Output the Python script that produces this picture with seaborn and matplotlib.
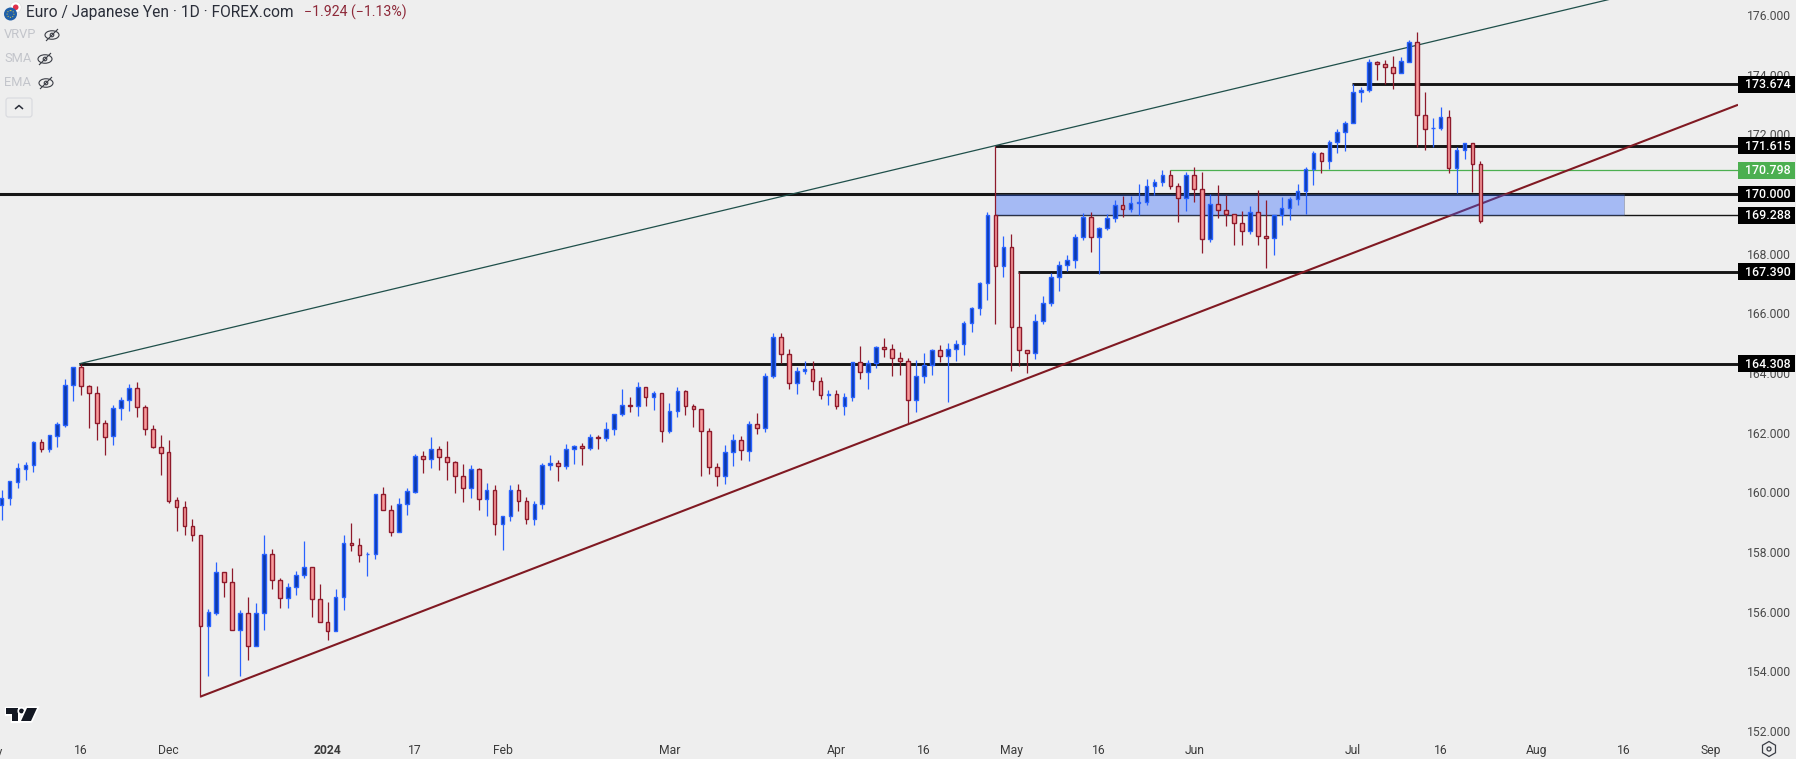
# EUR/JPY daily candles with hand drawn levels and trendlines
import matplotlib
matplotlib.use("Agg")
import matplotlib.pyplot as plt
from matplotlib.patches import Circle, Ellipse, FancyBboxPatch, Polygon, Rectangle, RegularPolygon
from matplotlib.transforms import blended_transform_factory
import matplotlib.patheffects as pe
import numpy as np
import pandas as pd
import seaborn as sns

# daily OHLC
opens = [159.56,159.80,160.36,160.79,160.90,161.67,161.44,161.90,162.27,163.59,
         164.19,163.55,163.32,162.31,161.88,162.81,163.08,163.48,162.85,162.11,
         161.51,161.34,159.73,159.50,158.86,158.56,155.53,155.96,157.32,156.98,
         155.37,155.94,154.84,155.94,157.92,157.05,156.44,156.81,157.22,157.48,
         156.41,155.64,155.34,156.48,158.29,158.22,157.92,157.92,159.93,159.39,
         158.66,159.60,160.02,161.21,161.10,161.44,161.17,161.00,160.53,160.13,
         160.77,159.76,160.07,158.93,159.19,160.07,159.70,159.09,159.60,160.90,
         160.97,160.87,161.44,161.54,161.47,161.84,161.81,162.11,162.61,162.91,
         162.88,163.52,163.18,163.32,162.04,162.71,163.38,162.88,162.78,162.04,
         160.84,160.53,161.34,161.74,161.40,162.28,162.14,163.89,165.19,164.62,
         163.65,164.05,164.12,163.72,163.27,163.28,162.88,163.18,164.36,164.02,
         164.32,164.86,164.79,164.49,164.39,163.08,163.89,164.26,164.76,164.56,
         164.79,164.96,165.66,166.17,167.00,169.28,167.57,168.21,165.53,164.76,
         164.66,165.73,166.33,167.21,167.61,167.78,168.55,169.22,168.55,168.85,
         169.18,169.62,169.49,169.70,169.72,170.26,170.39,170.63,170.26,169.85,
         170.63,170.16,168.48,169.65,169.45,169.32,169.02,168.75,169.38,168.58,
         168.51,169.28,169.52,169.82,170.09,170.83,171.36,171.09,171.73,172.07,
         172.37,173.41,173.48,174.41,174.35,174.25,174.04,174.42,175.08,172.64,
         172.20,172.20,172.57,170.86,171.46,171.70,170.99]
highs = [160.08,160.37,160.98,161.02,161.71,161.79,161.91,162.36,163.80,164.19,
         164.30,163.59,163.56,162.42,162.92,163.19,163.63,163.70,162.93,162.26,
         161.92,161.75,159.84,159.71,159.10,158.56,156.09,157.66,157.32,157.46,
         156.05,156.49,156.29,158.57,158.10,157.13,156.96,157.36,158.37,157.48,
         156.93,156.32,156.76,158.57,158.97,158.47,158.00,159.93,160.18,159.57,
         159.81,160.14,161.28,161.38,161.84,161.54,161.72,161.04,160.95,160.91,
         160.80,160.31,160.24,159.19,160.24,160.28,159.84,159.71,160.97,161.25,
         161.08,161.62,161.59,161.64,161.94,161.92,162.36,162.61,163.46,163.18,
         163.70,163.52,163.40,163.32,162.99,163.52,163.43,162.95,162.78,162.14,
         160.97,161.59,161.95,161.89,162.38,162.66,163.99,165.34,165.34,164.79,
         164.20,164.40,164.40,163.85,163.43,163.43,163.32,164.36,164.90,164.43,
         164.90,165.16,164.96,164.69,164.49,164.43,164.66,164.79,164.94,164.99,
         165.10,165.73,166.21,167.05,169.38,171.61,168.59,168.66,167.37,164.76,
         165.98,166.58,167.34,167.75,167.95,168.66,169.35,169.40,168.88,169.33,
         169.80,169.93,169.93,170.33,170.50,170.50,170.80,170.80,170.36,170.74,
         170.90,170.74,170.00,170.30,169.97,169.32,169.43,169.60,170.12,169.80,
         169.30,169.90,169.90,170.33,170.90,171.44,171.40,171.81,172.18,172.45,
         173.69,173.58,174.51,174.46,174.49,174.63,174.58,175.16,175.42,173.41,
         172.55,172.92,172.82,171.56,171.70,171.70,171.09]
lows = [159.07,159.57,160.14,160.41,160.68,161.35,161.35,161.52,162.19,163.06,
        163.26,162.15,161.75,161.25,161.59,162.42,162.72,162.52,161.92,161.50,
        160.58,159.65,158.70,158.57,158.37,153.15,153.84,155.89,156.50,155.37,
        153.84,154.38,154.84,155.38,156.76,156.12,156.12,156.56,157.13,155.82,
        155.64,155.05,155.34,156.05,158.03,157.66,157.19,157.76,159.39,158.53,
        158.66,159.24,159.99,160.65,160.81,160.75,160.41,159.99,159.69,159.81,
        159.42,159.20,158.57,158.07,159.04,159.37,158.94,158.90,159.44,160.75,
        160.38,160.78,160.95,160.91,161.42,161.45,161.72,161.92,162.56,162.69,
        162.56,162.89,162.76,161.69,161.99,162.52,162.59,162.19,160.55,160.61,
        160.21,160.28,160.88,161.08,161.05,161.95,162.02,163.83,164.32,163.46,
        163.29,163.96,163.43,163.13,162.93,162.79,162.59,163.06,163.80,163.46,
        164.17,164.53,163.90,163.93,162.31,162.69,163.66,163.93,164.37,163.03,
        164.40,164.60,165.37,165.94,166.45,165.64,167.22,164.07,164.23,164.00,
        164.47,165.64,166.24,166.75,167.41,167.52,168.46,168.06,167.32,168.79,
        169.06,169.23,169.40,169.30,169.63,169.97,170.27,170.17,169.06,169.43,
        169.73,168.02,168.39,169.19,168.93,168.29,168.29,168.66,168.29,167.53,
        167.95,168.96,169.13,169.63,169.33,170.30,170.70,170.84,171.37,171.44,
        172.37,173.08,173.42,173.82,173.69,173.52,174.04,174.41,171.58,171.47,
        171.58,172.15,170.70,170.02,171.17,170.07,169.03]
closes = [159.80,160.37,160.80,160.90,161.67,161.44,161.91,162.28,163.59,164.19,
          163.55,163.32,162.31,161.86,162.81,163.08,163.48,162.85,162.11,161.51,
          161.33,159.72,159.50,158.86,158.56,155.53,155.98,157.32,156.98,155.37,
          155.94,154.84,155.94,157.92,157.05,156.44,156.81,157.22,157.48,156.41,
          155.64,155.34,156.48,158.29,158.22,157.89,157.93,159.93,159.39,158.66,
          159.60,160.03,161.21,161.10,161.44,161.17,161.00,160.53,160.13,160.77,
          159.76,160.07,158.93,159.19,160.07,159.70,159.09,159.60,160.90,160.97,
          160.87,161.44,161.54,161.47,161.84,161.81,162.11,162.61,162.91,162.90,
          163.52,163.18,163.32,162.04,162.71,163.38,162.88,162.78,162.04,160.84,
          160.53,161.34,161.74,161.41,162.28,162.14,163.89,165.19,164.62,163.65,
          164.05,164.12,163.72,163.25,163.28,162.88,163.18,164.36,164.02,164.32,
          164.86,164.79,164.49,164.39,163.08,163.89,164.26,164.76,164.56,164.79,
          164.96,165.66,166.17,167.00,169.28,167.57,168.21,165.53,164.76,164.66,
          165.73,166.33,167.21,167.61,167.78,168.55,169.22,168.55,168.85,169.18,
          169.62,169.49,169.69,169.72,170.26,170.39,170.63,170.26,169.85,170.63,
          170.16,168.48,169.65,169.45,169.32,169.02,168.75,169.38,168.58,168.51,
          169.28,169.52,169.82,170.09,170.83,171.36,171.09,171.73,172.07,172.37,
          173.41,173.48,174.41,174.35,174.25,174.04,174.45,175.08,172.64,172.17,
          172.21,172.57,170.86,171.46,171.70,170.99,169.08]

# horizontal levels: price, first bar, line width in points
level_prices = [164.308, 167.390, 170.000, 171.615, 173.674, 169.288]
level_starts = [9.75, 127.8, -1, 125, 169.8, 125]
level_widths = [2.1, 2.1, 2.2, 2.1, 2.1, 1.0]
green_level = 170.798
green_start = 147

zone_prices = [169.288, 170.000]
zone_bars = [125, 204.1]

top_line_x = [9.75, 218.4]
top_line_y = [164.308, 177.55]
bottom_line_x = [25, 218.4]
bottom_line_y = [153.15, 172.99]

price_ticks = [152, 154, 156, 158, 160, 162, 164, 166, 168, 170, 172, 174, 176]
date_ticks = [10, 21, 41, 52, 63, 84, 105, 116, 127, 138, 150, 170, 181, 193, 204, 215]
date_labels = ["16", "Dec", "2024", "17", "Feb", "Mar", "Apr", "16", "May", "16",
               "Jun", "Jul", "16", "Aug", "16", "Sep"]

BG = "#eeeeee"
BULL_EDGE = "#2962ff"
BULL_FILL = "#0d3aa9"
BEAR_EDGE = "#8e1a2b"
BEAR_FILL = "#f89b9b"
W, H = 1796, 759

sns.set_theme(style="white", rc={"lines.solid_capstyle": "butt", "axes.facecolor": BG,
                                 "figure.facecolor": BG})
plt.rcParams["font.family"] = ["Roboto", "DejaVu Sans"]

candles = pd.DataFrame({"open": opens, "high": highs, "low": lows, "close": closes})
candles["bar"] = np.arange(len(candles))
candles["side"] = np.where(candles["close"] >= candles["open"], "up", "down")
wicks = candles.melt(id_vars=["bar", "side"], value_vars=["low", "high"], value_name="price")

fig = plt.figure(figsize=(W / 100, H / 100), dpi=100)
ax = fig.add_axes([0, 24 / H, 1738 / W, 735 / H])
ax.set_axisbelow(True)

# levels and trendlines sit under the candles
for p, start, lw in zip(level_prices, level_starts, level_widths):
    sns.lineplot(x=[start, 218.4], y=[p, p], color="#151515", linewidth=lw, ax=ax, zorder=2)
sns.lineplot(x=[green_start, 218.4], y=[green_level, green_level], color="#4caf50",
             linewidth=0.9, ax=ax, zorder=2)
sns.lineplot(x=top_line_x, y=top_line_y, color="#1f4f4a", linewidth=0.9, ax=ax, zorder=2.1)
sns.lineplot(x=bottom_line_x, y=bottom_line_y, color="#801922", linewidth=1.5, ax=ax, zorder=2.1)

ax.add_patch(Rectangle((zone_bars[0], zone_prices[0]), zone_bars[1] - zone_bars[0],
                       zone_prices[1] - zone_prices[0], facecolor="#2962ff", alpha=0.37,
                       edgecolor="#555555", linewidth=0.6, zorder=3))

sns.lineplot(data=wicks, x="bar", y="price", units="bar", estimator=None, hue="side",
             palette={"up": BULL_EDGE, "down": BEAR_EDGE}, linewidth=0.9, legend=False,
             sort=False, ax=ax, zorder=4)
for side, face, edge in [("up", BULL_FILL, BULL_EDGE), ("down", BEAR_FILL, BEAR_EDGE)]:
    part = candles[candles["side"] == side]
    ax.bar(part["bar"], (part["close"] - part["open"]).abs(),
           bottom=part[["open", "close"]].min(axis=1), width=0.46,
           facecolor=face, edgecolor=edge, linewidth=1.0, zorder=5)

ax.set_xlim(-0.21, 218.4)
ax.set_ylim(176 - 720 / 29.83, 176 + 15 / 29.83)
ax.set(xlabel="", ylabel="")
sns.despine(ax=ax, left=True, bottom=True, right=True, top=True)

ax.yaxis.tick_right()
ax.set_yticks(price_ticks, [f"{v:.3f}" for v in price_ticks])
ax.set_xticks(date_ticks, date_labels)
ax.tick_params(axis="y", length=0, pad=6.5, labelsize=8.7, labelcolor="#4a4a4a")
ax.tick_params(axis="x", length=0, pad=6.5, labelsize=8.7, labelcolor="#3a3a3a")
for lab in ax.get_xticklabels():
    if lab.get_text() == "2024":
        lab.set_fontweight("bold")

# price tags on the scale
tag_tr = blended_transform_factory(ax.transAxes, ax.transData)
tag_h = 16.7 / 29.83
tags = [(p, "#000000") for p in level_prices] + [(green_level, "#4caf50")]
for p, col in tags:
    ax.add_patch(Rectangle((1.0, p - tag_h / 2), 57 / 1738, tag_h, transform=tag_tr,
                           facecolor=col, edgecolor="none", clip_on=False, zorder=10))
    ax.text(1 + 30 / 1738, p - 0.01, f"{p:.3f}", transform=tag_tr, color="white",
            fontsize=8.9, fontweight="medium", ha="center", va="center", zorder=11)

# month cut off at the left edge
ax.text(-1.3, -11 / 735, "Nov", transform=blended_transform_factory(ax.transData, ax.transAxes),
        fontsize=8.7, color="#3a3a3a", ha="center", va="top")

# header, icons and logo in screen pixels
top = fig.add_axes([0, 0, 1, 1], zorder=20)
top.set_xlim(0, W)
top.set_ylim(H, 0)
top.axis("off")
top.patch.set_alpha(0)

top.text(26, 12.5, "Euro / Japanese Yen · 1D · FOREX.com", fontsize=11.2, color="#2a2e39", va="center")
top.text(304, 12.5, "−1.924 (−1.13%)", fontsize=10.2, color="#8e2a3a", va="center")
top.add_patch(Circle((15.7, 7.3), 5.5, facecolor="white", edgecolor="#dddddd", linewidth=0.4))
top.add_patch(Circle((15.7, 7.3), 2.8, facecolor="#e0304a", edgecolor="none"))
top.add_patch(Circle((10.5, 14), 6.5, facecolor="#1f5fa8", edgecolor="none"))
top.add_patch(Circle((10.5, 14), 3.4, facecolor="none", edgecolor="#e8c93a", linewidth=0.7, linestyle=":"))

for name, y, ex in [("VRVP", 35, 52), ("SMA", 59, 45), ("EMA", 83, 46)]:
    top.text(4, y, name, fontsize=9.3, color="#c3c5cb", va="center")
    top.add_patch(Ellipse((ex, y), 14, 8.5, facecolor="none", edgecolor="#3a3d45", linewidth=0.8))
    top.add_patch(Circle((ex, y), 1.8, facecolor="none", edgecolor="#3a3d45", linewidth=0.8))
    top.plot([ex - 6, ex + 6], [y + 6, y - 6], color="#3a3d45", linewidth=0.8)

top.add_patch(FancyBboxPatch((6, 98), 26, 19, boxstyle="round,pad=0,rounding_size=2.5",
                             facecolor="none", edgecolor="#d8d9de", linewidth=0.8))
top.plot([15, 19, 23], [109, 105.5, 109], color="#2a2e39", linewidth=1.1)

halo = [pe.withStroke(linewidth=2.4, foreground="white")]
top.add_patch(Polygon([(6, 708), (18, 708), (18, 721), (12, 721), (12, 714), (6, 714)],
                      facecolor="#131722", edgecolor="none", path_effects=halo))
top.add_patch(Circle((21.5, 711), 2.4, facecolor="#131722", edgecolor="none", path_effects=halo))
top.add_patch(Polygon([(27, 708), (37, 708), (31, 721), (21, 721)],
                      facecolor="#131722", edgecolor="none", path_effects=halo))

top.add_patch(RegularPolygon((1769, 749), 6, radius=7.5, facecolor="none",
                             edgecolor="#3a3d45", linewidth=0.9))
top.add_patch(Circle((1769, 749), 2, facecolor="none", edgecolor="#3a3d45", linewidth=0.9))

fig.savefig("out.png", dpi=100, facecolor=BG)
